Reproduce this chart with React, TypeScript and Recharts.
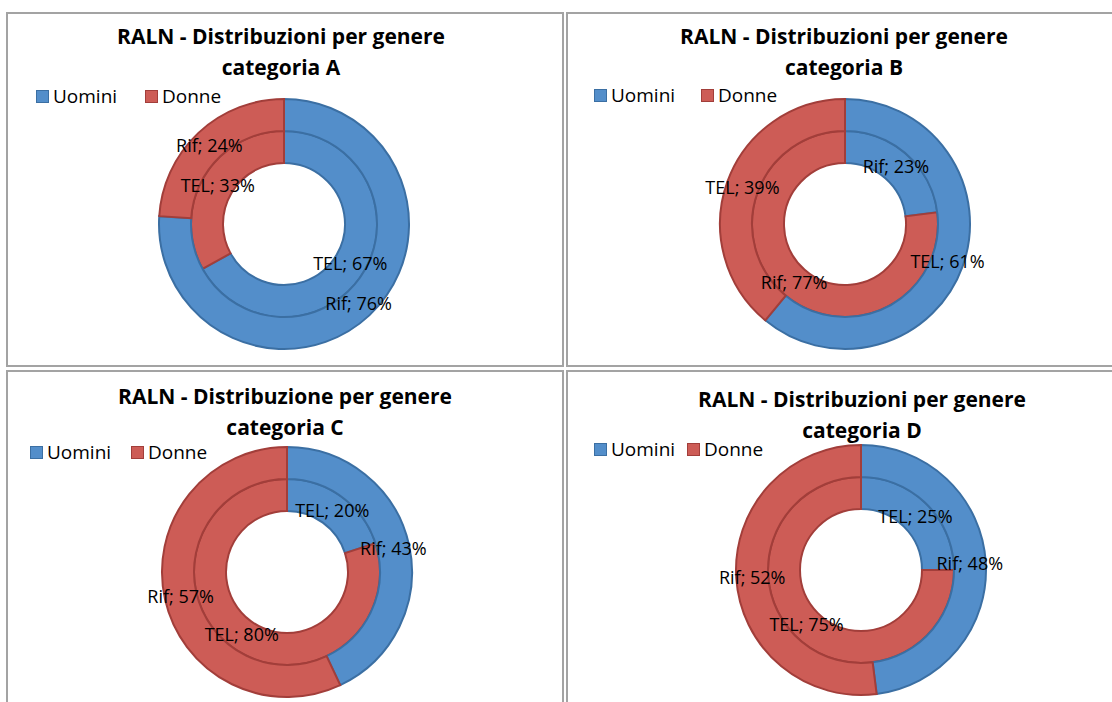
import React from "react";
import { Cell, Pie, PieChart } from "recharts";

// ---- data ----
const genders = ["Uomini", "Donne"];

const catA_TEL = [67, 33];
const catA_Rif = [76, 24];
const catB_TEL = [61, 39];
const catB_Rif = [23, 77];
const catC_TEL = [20, 80];
const catC_Rif = [43, 57];
const catD_TEL = [25, 75];
const catD_Rif = [48, 52];

const titleLine1 = [
  "RALN - Distribuzioni per genere",
  "RALN - Distribuzioni per genere",
  "RALN - Distribuzione per genere",
  "RALN - Distribuzioni per genere",
];
const titleLine2 = ["categoria A", "categoria B", "categoria C", "categoria D"];

// ---- styling ----
const FILL = ["#538ECA", "#CD5C56"];
const STROKE = ["#3B6FA3", "#A23E3A"];
const FONT = "'Open Sans', 'DejaVu Sans', sans-serif";
const BORDER = "#A3A3A3";

const R_IN = 61;
const R_MID = 93;
const R_OUT = 125;

type Panel = {
  innerName: string;
  outerName: string;
  inner: number[];
  outer: number[];
  box: { x: number; y: number; w: number; h: number };
  center: { x: number; y: number };
  titleX: number;
  titleTop: number;
  legendY: number;
  legendX: number[];
};

const toRows = (values: number[]) =>
  genders.map((g, i) => ({ name: g, value: values[i] }));

const panels: Panel[] = [
  {
    innerName: "TEL",
    outerName: "Rif",
    inner: catA_TEL,
    outer: catA_Rif,
    box: { x: 6, y: 12, w: 558, h: 355 },
    center: { x: 284, y: 224 },
    titleX: 281,
    titleTop: 21,
    legendY: 96,
    legendX: [36, 145],
  },
  {
    innerName: "Rif",
    outerName: "TEL",
    inner: catB_Rif,
    outer: catB_TEL,
    box: { x: 566, y: 12, w: 560, h: 355 },
    center: { x: 845, y: 224 },
    titleX: 844,
    titleTop: 21,
    legendY: 95,
    legendX: [594, 701],
  },
  {
    innerName: "TEL",
    outerName: "Rif",
    inner: catC_TEL,
    outer: catC_Rif,
    box: { x: 6, y: 370, w: 558, h: 345 },
    center: { x: 287, y: 572 },
    titleX: 285,
    titleTop: 381,
    legendY: 452,
    legendX: [30, 131],
  },
  {
    innerName: "TEL",
    outerName: "Rif",
    inner: catD_TEL,
    outer: catD_Rif,
    box: { x: 566, y: 370, w: 560, h: 345 },
    center: { x: 861, y: 570 },
    titleX: 862,
    titleTop: 384,
    legendY: 449,
    legendX: [594, 687],
  },
];

const RADIAN = Math.PI / 180;

const makeLabel = (series: string) => (props: any) => {
  const { cx, cy, midAngle, innerRadius, outerRadius, value } = props;
  const r = (innerRadius + outerRadius) / 2;
  const x = cx + r * Math.cos(-midAngle * RADIAN);
  const y = cy + r * Math.sin(-midAngle * RADIAN);
  return (
    <text
      x={x}
      y={y}
      textAnchor="middle"
      dominantBaseline="central"
      fill="#000"
      fontSize={18}
      fontFamily={FONT}
    >
      {`${series}; ${value}%`}
    </text>
  );
};

function PanelView({ p, i }: { p: Panel; i: number }) {
  const cx = p.center.x - p.box.x;
  const cy = p.center.y - p.box.y;
  return (
    <>
      <div
        style={{
          position: "absolute",
          left: p.box.x,
          top: p.box.y,
          width: p.box.w,
          height: p.box.h,
          boxSizing: "border-box",
          border: `2px solid ${BORDER}`,
          background: "#fff",
        }}
      />
      <div style={{ position: "absolute", left: p.box.x, top: p.box.y }}>
        <PieChart
          width={p.box.w}
          height={p.box.h}
          margin={{ top: 0, right: 0, bottom: 0, left: 0 }}
        >
          <Pie
            data={toRows(p.inner)}
            dataKey="value"
            cx={cx}
            cy={cy}
            innerRadius={R_IN}
            outerRadius={R_MID}
            startAngle={90}
            endAngle={-270}
            strokeWidth={2}
            label={makeLabel(p.innerName)}
            labelLine={false}
            isAnimationActive={false}
          >
            {genders.map((g, k) => (
              <Cell key={g} fill={FILL[k]} stroke={STROKE[k]} />
            ))}
          </Pie>
          <Pie
            data={toRows(p.outer)}
            dataKey="value"
            cx={cx}
            cy={cy}
            innerRadius={R_MID}
            outerRadius={R_OUT}
            startAngle={90}
            endAngle={-270}
            strokeWidth={2}
            label={makeLabel(p.outerName)}
            labelLine={false}
            isAnimationActive={false}
          >
            {genders.map((g, k) => (
              <Cell key={g} fill={FILL[k]} stroke={STROKE[k]} />
            ))}
          </Pie>
        </PieChart>
      </div>
      <div
        style={{
          position: "absolute",
          left: p.titleX - 250,
          top: p.titleTop,
          width: 500,
          textAlign: "center",
          fontFamily: FONT,
          fontWeight: 700,
          fontSize: 21,
          lineHeight: "31px",
          color: "#000",
          pointerEvents: "none",
        }}
      >
        <div>{titleLine1[i]}</div>
        <div>{titleLine2[i]}</div>
      </div>
      {genders.map((g, k) => (
        <div
          key={g}
          style={{
            position: "absolute",
            left: p.legendX[k],
            top: p.legendY - 12,
            height: 24,
            display: "flex",
            alignItems: "center",
            fontFamily: FONT,
            fontSize: 19,
            color: "#000",
            whiteSpace: "nowrap",
          }}
        >
          <span
            style={{
              display: "inline-block",
              width: 11,
              height: 11,
              background: FILL[k],
              border: `1.5px solid ${STROKE[k]}`,
              marginRight: 4,
            }}
          />
          {g}
        </div>
      ))}
    </>
  );
}

export default function App() {
  return (
    <div
      style={{
        position: "absolute",
        left: 0,
        top: 0,
        width: 1112,
        height: 702,
        overflow: "hidden",
        background: "#fff",
      }}
    >
      {panels.map((p, i) => (
        <PanelView key={i} p={p} i={i} />
      ))}
    </div>
  );
}
